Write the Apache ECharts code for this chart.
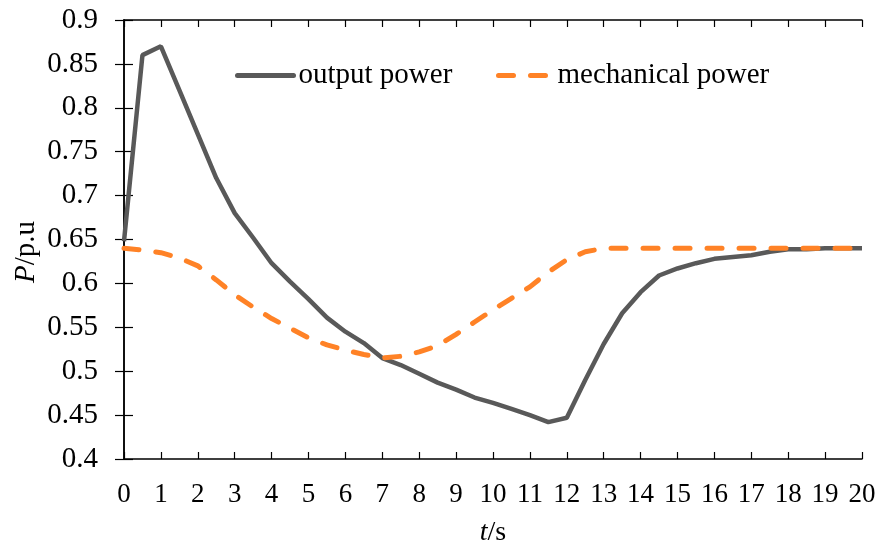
<!DOCTYPE html>
<html>
<head>
<meta charset="utf-8">
<script src="https://cdn.jsdelivr.net/npm/echarts@6/dist/echarts.min.js"></script>
<style>html,body{margin:0;padding:0;background:#fff;}#c{width:879px;height:545px;}</style>
</head>
<body>
<div id="c"></div>
<script>
const times = [0,0.5,1,1.5,2,2.5,3,3.5,4,4.5,5,5.5,6,6.5,7,7.5,8,8.5,9,9.5,10,10.5,11,11.5,12,12.5,13,13.5,14,14.5,15,15.5,16,16.5,17,17.5,18,18.5,19,19.5,20];
const outputPower = [0.648,0.86,0.87,0.82,0.77,0.72,0.68,0.652,0.623,0.602,0.582,0.561,0.545,0.532,0.515,0.507,0.497,0.487,0.479,0.47,0.464,0.457,0.45,0.442,0.447,0.49,0.531,0.566,0.59,0.609,0.617,0.623,0.628,0.63,0.632,0.636,0.639,0.639,0.64,0.64,0.64];
const mechanicalPower = [0.64,0.638,0.635,0.629,0.62,0.604,0.587,0.573,0.56,0.549,0.538,0.53,0.524,0.519,0.515,0.517,0.522,0.529,0.542,0.556,0.57,0.583,0.596,0.613,0.627,0.636,0.64,0.64,0.64,0.64,0.64,0.64,0.64,0.64,0.64,0.64,0.64,0.64,0.64,0.64,0.64];
const seriesNames = ['output power','mechanical power'];

const FONT = '"Liberation Serif","Times New Roman",serif';
const GRAY = '#595959', ORANGE = '#ff8226';
const DASH = [15,17];
const chart = echarts.init(document.getElementById('c'));
const axisLine = {show:true, lineStyle:{color:'#000', width:1.5}};
chart.setOption({
  animation:false,
  grid:{left:124, right:17, top:20, bottom:86, containLabel:false, outerBoundsMode:'none'},
  legend:[
    {data:[seriesNames[0]], left:230, top:56, itemWidth:56, itemHeight:14, itemGap:0,
     itemStyle:{opacity:0}, lineStyle:{color:GRAY, width:5, cap:'round'},
     textStyle:{fontFamily:FONT, fontSize:29, color:'#000'}},
    {data:[seriesNames[1]], left:491, top:56, itemWidth:54, itemHeight:14, itemGap:0,
     itemStyle:{opacity:0}, lineStyle:{color:ORANGE, width:5, type:DASH, cap:'round'},
     textStyle:{fontFamily:FONT, fontSize:29, color:'#000'}}
  ],
  xAxis:[
    {type:'value', min:0, max:20, interval:1, position:'bottom',
     axisLine:axisLine, splitLine:{show:false},
     axisTick:{show:true, inside:true, length:7, lineStyle:{color:'#000', width:1.2}},
     axisLabel:{fontFamily:FONT, fontSize:27, color:'#000', margin:22},
     name:'{i|t}/s', nameLocation:'middle', nameGap:60,
     nameTextStyle:{fontFamily:FONT, fontSize:28, color:'#000', rich:{i:{fontFamily:FONT, fontSize:28, fontStyle:'italic', color:'#000'}}}},
    {type:'value', min:0, max:20, interval:1, position:'top',
     axisLine:axisLine, splitLine:{show:false},
     axisTick:{show:true, inside:true, length:7, lineStyle:{color:'#000', width:1.2}},
     axisLabel:{show:false}}
  ],
  yAxis:[
    {type:'value', min:0.4, max:0.9, interval:0.05, position:'left',
     axisLine:axisLine, splitLine:{show:false},
     axisTick:{show:true, inside:true, length:9, lineStyle:{color:'#000', width:1.2}},
     axisLabel:{fontFamily:FONT, fontSize:29, color:'#000', margin:26}},
    {type:'value', min:0.4, max:0.9, interval:0.05, position:'right',
     axisLine:axisLine, splitLine:{show:false},
     axisTick:{show:true, inside:true, length:9, lineStyle:{color:'#000', width:1.2}},
     axisLabel:{show:false}}
  ],
  graphic:[
    {type:'text', x:26, y:252, rotation:Math.PI/2,
     style:{text:'{i|P}/p.u', align:'center', verticalAlign:'middle',
       font:'29px '+FONT, fill:'#000',
       rich:{i:{fontFamily:FONT, fontSize:29, fontStyle:'italic', fill:'#000'}}}}
  ],
  series:[
    {name:seriesNames[0], type:'line', symbol:'none', xAxisIndex:0, yAxisIndex:0,
     data:times.map((t,i)=>[t,outputPower[i]]),
     itemStyle:{color:GRAY},
     lineStyle:{color:GRAY, width:4.5}, z:3},
    {name:seriesNames[1], type:'line', symbol:'none', xAxisIndex:0, yAxisIndex:0,
     data:times.map((t,i)=>[t,mechanicalPower[i]]),
     itemStyle:{color:ORANGE},
     lineStyle:{color:ORANGE, width:5, type:DASH, cap:'round'}, z:4}
  ]
});
</script>
</body>
</html>
